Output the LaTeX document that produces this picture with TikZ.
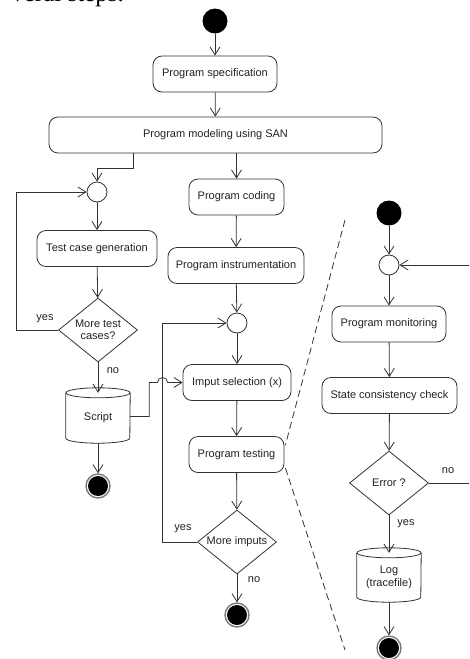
\documentclass[tikz,border=0pt]{standalone}
\usepackage{fontspec}
\setmainfont{Liberation Sans}
\newfontfamily\bodyserif{Liberation Serif}
\usetikzlibrary{arrows.meta,shapes.geometric,calc}

\definecolor{linegray}{HTML}{333333}
\definecolor{textgray}{HTML}{222222}
\definecolor{ringgray}{HTML}{7A7A7A}

\tikzset{
  labelfont/.style={font=\fontsize{11}{12.5}\selectfont, text=textgray},
  link/.style={draw=linegray, line width=0.8pt},
  flow/.style={link, -{Straight Barb[length=8pt,width=10pt]}},
  action/.style={draw=linegray, line width=0.8pt, rounded corners=9pt,
    minimum height=36pt, inner sep=2pt, labelfont},
  decision/.style={diamond, draw=linegray, line width=0.8pt, aspect=1.23,
    inner sep=0pt, minimum width=79pt, minimum height=64pt, align=center, labelfont},
  junction/.style={circle, draw=linegray, line width=0.8pt, minimum size=20pt,
    inner sep=0pt, fill=white},
  startdot/.style={circle, fill=black, minimum size=25pt, inner sep=0pt},
  enddot/.style={circle, draw=ringgray, line width=1.4pt, minimum size=24pt,
    inner sep=0pt, path picture={\fill[black] (path picture bounding box.center) circle (10pt);}},
  store/.style={minimum width=64pt, inner sep=0pt, align=center, labelfont},
  guard/.style={labelfont},
  divider/.style={draw=linegray, line width=0.8pt, dash pattern=on 7pt off 4pt},
}

\begin{document}
\begin{tikzpicture}[x=1pt,y=1pt]
\useasboundingbox (0,0) rectangle (469,-659);
\clip (0,0) rectangle (469,-659);

% tail of the preceding paragraph
\node[anchor=base east, inner sep=0pt, font=\bodyserif\fontsize{25}{25}\selectfont]
  (para) at (124,-1.5) {veral steps.};

% ---------- design / test generation flow ----------
\node[startdot] (s1) at (215,-21) {};
\node[action, minimum width=124pt] (spec) at (215,-74) {Program specification};
\node[action, minimum width=333pt] (model) at (215.5,-135) {Program modeling using SAN};

\node[junction] (j1) at (97,-192) {};
\node[action, minimum width=120pt] (gen) at (97,-248.5) {Test case generation};
\node[decision] (more1) at (98,-330) {More test\\cases?};
\node[store, minimum height=50pt] (script) at (98,-418) {Script};
\node[enddot] (e1) at (98,-486) {};

\node[action, minimum width=95pt] (coding) at (236.5,-197) {Program coding};
\node[action, minimum width=136pt] (instr) at (236,-265.5) {Program instrumentation};
\node[junction] (j2) at (237,-323) {};
\node[action, minimum width=108pt] (imput) at (237,-382.5) {Imput selection (x)};
\node[action, minimum width=95pt] (testing) at (236.5,-454.5) {Program testing};
\node[decision] (more2) at (237,-542) {More imputs};
\node[enddot] (e2) at (237,-615) {};

% ---------- monitoring flow ----------
\node[startdot] (s2) at (389,-213) {};
\node[junction] (j3) at (389,-265) {};
\node[action, minimum width=114pt] (monitor) at (389,-324) {Program monitoring};
\node[action, minimum width=135pt] (check) at (389.5,-395.5) {State consistency check};
\node[decision] (err) at (389,-483) {Error ?};
\node[store, minimum height=49pt] (log) at (389,-577.5) {Log\\(tracefile)};
\node[enddot] (e3) at (389,-648) {};

% cylinder outlines of the two data stores
\foreach \db in {script,log}{
  \draw[link] (\db.north west) -- ([yshift=5pt]\db.south west)
    arc[start angle=180, end angle=360, x radius=32pt, y radius=5pt]
    -- (\db.north east);
  \draw[link] (\db.north) ellipse[x radius=32pt, y radius=5pt];
}

% ---------- connectors ----------
\draw[flow] (s1) -- (spec);
\draw[flow] (spec) -- (model);
\draw[flow] ([xshift=-82.5pt]model.south) -- ++(0,-15) -| (j1.north);
\draw[flow] (model.south -| coding.north) -- (coding.north);

\draw[flow] (j1) -- (gen);
\draw[flow] (gen) -- (more1);
\draw[flow] (more1.south) -- (script.north);
\draw[flow] (more1.west) -- ++(-42,0) |- (j1.west);
\draw[flow] (script.south) -- (e1);
\draw[flow] (script.east) ++(0,1.5) -- ++(19,0) |- ([xshift=-25pt]imput.west)
  arc[start angle=180, end angle=0, radius=5pt] -- (imput.west);

\draw[flow] (coding) -- (instr);
\draw[flow] (instr) -- (j2);
\draw[flow] (j2) -- (imput);
\draw[flow] (imput) -- (testing);
\draw[flow] (testing) -- (more2);
\draw[flow] (more2) -- (e2);
\draw[flow] (more2.west) -- ++(-34.5,0) |- (j2.west);

\draw[flow] (s2) -- (j3);
\draw[flow] (j3) -- (monitor);
\draw[flow] (monitor) -- (check);
\draw[flow] (check) -- (err);
\draw[flow] (err.south) -- (log.north);
\draw[flow] (log.south) -- (e3);
\draw[flow] (err.east) -- ++(70,0) |- (j3.east);

% guards
\node[guard] (y1) at (45,-319) {yes};
\node[guard] (n1) at (113,-371) {no};
\node[guard] (y2) at (183,-529) {yes};
\node[guard] (n2) at (254,-580) {no};
\node[guard] (n3) at (448,-471) {no};
\node[guard] (y3) at (406,-524) {yes};

% zoom-out lines from the testing step
\coordinate (zt) at (345,-220);
\coordinate (zb) at (345,-650);
\draw[divider] (zt) -- ([yshift=9.5pt, xshift=1pt]testing.east);
\draw[divider] ([yshift=-13.5pt, xshift=1pt]testing.east) -- (zb);
\end{tikzpicture}
\end{document}
